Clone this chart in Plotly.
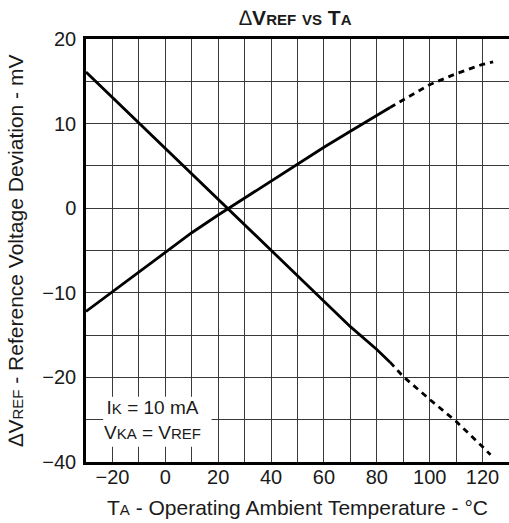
import plotly.graph_objects as go

# ---- data ----
# temperature in degC, deviation in mV
rise_solid_t = [-30, -20, -10, 0, 10, 20, 30, 40, 50, 60, 70, 80, 85]
rise_solid_v = [-12.2, -9.9, -7.6, -5.2, -2.9, -0.8, 1.2, 3.3, 5.3, 7.2, 9.1, 11.0, 11.9]
rise_dash_t = [85, 90, 100, 110, 120, 124]
rise_dash_v = [11.9, 12.8, 14.6, 15.9, 17.0, 17.3]

fall_solid_t = [-30, -20, -10, 0, 10, 20, 30, 40, 50, 60, 70, 80, 85]
fall_solid_v = [16.1, 13.1, 10.1, 7.1, 4.1, 1.1, -1.9, -5.0, -8.0, -11.0, -14.0, -16.7, -18.2]
fall_dash_t = [85, 90, 100, 110, 120, 123]
fall_dash_v = [-18.2, -19.9, -25.2, -30.4, -36.4, -38.3]

y_tick_values = [20, 10, 0, -10, -20, -40]     # mV labels on the axis
y_tick_text = ["20", "10", "0", "\u221210", "\u221220", "\u221240"]
y_minor_values = [15, 5, -5, -15, -30]
x_tick_values = [-20, 0, 20, 40, 60, 80, 100, 120]
x_tick_text = ["\u221220", "0", "20", "40", "60", "80", "100", "120"]
x_minor_values = [-10, 10, 30, 50, 70, 90, 110]


def axis_pos(v):
    """The datasheet axis is compressed by 2x below -20 mV."""
    return v if v >= -20 else -20 + (v + 20) / 2.0


def mapped(vals):
    return [axis_pos(v) for v in vals]


FONT = "Liberation Sans, Arial, sans-serif"
INK = "#1a1a1a"
GRID = "#3a3a3a"
SMALL = "font-size:15px"

W, H = 509, 523

fig = go.Figure()
line_solid = dict(color="black", width=2.8)
line_dash = dict(color="black", width=2.8, dash="6px,5px")

for t, v, ln in [(rise_solid_t, rise_solid_v, line_solid), (rise_dash_t, rise_dash_v, line_dash),
                 (fall_solid_t, fall_solid_v, line_solid), (fall_dash_t, fall_dash_v, line_dash)]:
    fig.add_trace(go.Scatter(x=t, y=mapped(v), mode="lines", line=ln,
                             hoverinfo="skip", showlegend=False))

delta = "<span style='font-weight:normal;font-style:italic'>\u2206</span>"

fig.update_layout(
    width=W, height=H,
    margin=dict(l=86, r=0, t=39, b=61),
    paper_bgcolor="white", plot_bgcolor="white",
    font=dict(family=FONT, size=20, color=INK),
    title=dict(
        text=f"{delta}<b>V<span style='{SMALL}'>REF</span> <span style='{SMALL}'>VS</span> "
             f"T<span style='{SMALL}'>A</span></b>",
        x=0.495, xref="paper", xanchor="center",
        y=1 - 18 / H, yref="container", yanchor="middle",
        font=dict(family=FONT, size=21, color=INK),
    ),
    xaxis=dict(
        range=[-30, 130], tickmode="array", tickvals=x_tick_values, ticktext=x_tick_text,
        showgrid=True, gridcolor=GRID, gridwidth=1.3,
        minor=dict(tickmode="array", tickvals=x_minor_values,
                   showgrid=True, gridcolor=GRID, gridwidth=1.3),
        showline=True, linecolor="black", linewidth=2.5, mirror=True,
        zeroline=False, ticks="", ticklabelstandoff=-5, automargin=False,
        tickfont=dict(size=20, color=INK),
        title=dict(text=f"T<span style='{SMALL}'>A</span> - Operating Ambient Temperature - \u00b0C",
                   font=dict(size=21, color=INK), standoff=14),
    ),
    yaxis=dict(
        range=[-30, 20], tickmode="array", tickvals=mapped(y_tick_values), ticktext=y_tick_text,
        showgrid=True, gridcolor=GRID, gridwidth=1.3,
        minor=dict(tickmode="array", tickvals=mapped(y_minor_values),
                   showgrid=True, gridcolor=GRID, gridwidth=1.3),
        showline=True, linecolor="black", linewidth=2.5, mirror=False,
        zeroline=False, ticks="", ticklabelstandoff=3, automargin=False,
        tickfont=dict(size=20, color=INK),
        title=dict(text=f"\u2206V<span style='{SMALL}'>REF</span> - Reference Voltage Deviation - mV",
                   font=dict(size=21, color=INK), standoff=13),
    ),
)

# white panel behind the test-condition note (hides the grid there)
fig.add_shape(type="rect", xref="x", yref="y", x0=-23.5, x1=17.5, y0=-28.2, y1=-22.3,
              fillcolor="white", line=dict(width=0), layer="above")

fig.add_annotation(
    x=-4.9, y=axis_pos(-30.0), xref="x", yref="y",
    text=(f"I<span style='{SMALL}'>K</span> = 10 mA<br>"
          f"V<span style='{SMALL}'>KA</span> = V<span style='{SMALL}'>REF</span>"),
    showarrow=False, xanchor="center", yanchor="middle", align="center",
    font=dict(family=FONT, size=19, color=INK),
)

fig.write_html("out.html", config={"displayModeBar": False},
               post_script="document.body.style.margin='0';")
